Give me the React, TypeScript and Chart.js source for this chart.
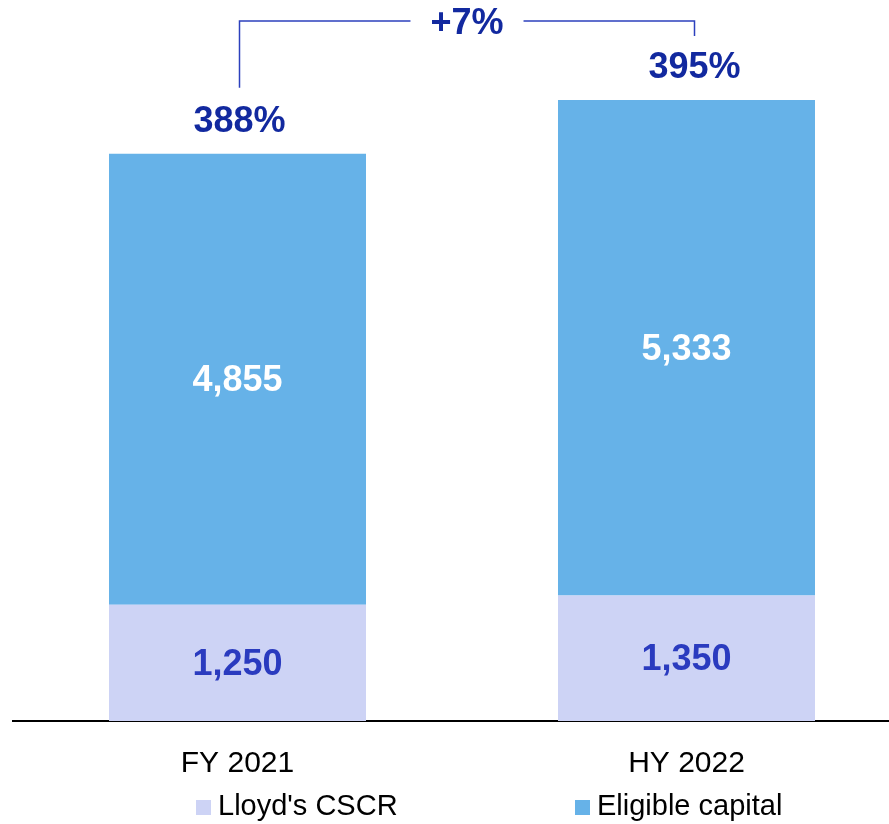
import React, { useEffect, useRef } from "react";
import { Chart, registerables } from "chart.js";

Chart.register(...registerables);

const categories = ["FY 2021", "HY 2022"];
const cscrValues = [1250, 1350];
const eligibleValues = [4855, 5333];
const ratioLabels = ["388%", "395%"];
const changeLabel = "+7%";
const seriesNames = ["Lloyd's CSCR", "Eligible capital"];

const FONT = "'Liberation Sans', Arial, Helvetica, sans-serif";
const CSCR_COLOR = "#cdd3f5";
const ELIGIBLE_COLOR = "#66b2e8";
const NAVY = "#12299f";
const INNER_BLUE = "#2a3bbf";
const BRACKET = "#2c40bd";

const fmt = (v: number) => v.toLocaleString("en-US");

const labelPlugin = {
  id: "customLabels",
  afterDatasetsDraw(chart: any) {
    const ctx = chart.ctx;
    ctx.save();
    ctx.textAlign = "center";
    ctx.textBaseline = "middle";
    ctx.font = `bold 36px ${FONT}`;
    chart.data.datasets.forEach((ds: any, di: number) => {
      const meta = chart.getDatasetMeta(di);
      meta.data.forEach((el: any, i: number) => {
        const v = ds.data[i];
        ctx.fillStyle = di === 0 ? INNER_BLUE : "#ffffff";
        ctx.fillText(fmt(v), el.x, (el.y + el.base) / 2 + 2);
      });
    });
    const topMeta = chart.getDatasetMeta(chart.data.datasets.length - 1);
    const els = topMeta.data;
    const offsets = [2, 8];
    ctx.fillStyle = NAVY;
    els.forEach((el: any, i: number) => {
      ctx.fillText(ratioLabels[i], el.x + offsets[i], el.y - 32);
    });
    const leftX = els[0].x + offsets[0];
    const rightX = els[1].x + offsets[1];
    const lineY = Math.min(els[0].y, els[1].y) - 79;
    const midX = (leftX + rightX) / 2;
    const tw = ctx.measureText(changeLabel).width;
    const gap = tw / 2 + 20;
    ctx.strokeStyle = BRACKET;
    ctx.lineWidth = 1.5;
    ctx.beginPath();
    ctx.moveTo(leftX, els[0].y - 66);
    ctx.lineTo(leftX, lineY);
    ctx.lineTo(midX - gap, lineY);
    ctx.moveTo(midX + gap, lineY);
    ctx.lineTo(rightX, lineY);
    ctx.lineTo(rightX, els[1].y - 64);
    ctx.stroke();
    ctx.fillText(changeLabel, midX, lineY + 3);
    ctx.restore();
  },
  afterDraw(chart: any) {
    const ctx = chart.ctx;
    ctx.save();
    const starts = [196, 575];
    ctx.font = `29px ${FONT}`;
    ctx.textAlign = "left";
    ctx.textBaseline = "alphabetic";
    chart.data.datasets.forEach((ds: any, i: number) => {
      const x0 = starts[i];
      ctx.fillStyle = ds.backgroundColor;
      ctx.fillRect(x0, 800, 15, 15);
      ctx.fillStyle = "#000000";
      ctx.fillText(ds.label, x0 + 22, 815);
    });
    ctx.restore();
  },
};

export default function App() {
  const ref = useRef<HTMLCanvasElement | null>(null);
  useEffect(() => {
    if (!ref.current) return;
    const chart = new Chart(ref.current, {
      type: "bar",
      data: {
        labels: categories,
        datasets: [
          {
            label: seriesNames[0],
            data: cscrValues,
            backgroundColor: CSCR_COLOR,
            categoryPercentage: 1,
            barPercentage: 0.5724,
          },
          {
            label: seriesNames[1],
            data: eligibleValues,
            backgroundColor: ELIGIBLE_COLOR,
            categoryPercentage: 1,
            barPercentage: 0.5724,
          },
        ],
      },
      options: {
        responsive: false,
        animation: false,
        devicePixelRatio: 1,
        layout: { padding: { left: 13, right: 0, top: 24, bottom: 17 } },
        plugins: {
          legend: { display: false },
          tooltip: { enabled: false },
        },
        scales: {
          x: {
            stacked: true,
            grid: { display: true, drawOnChartArea: false, drawTicks: false },
            border: { display: true, color: "#000000", width: 2 },
            ticks: {
              color: "#000000",
              padding: 25,
              font: { family: FONT, size: 30 },
            },
          },
          y: {
            stacked: true,
            display: false,
            min: 0,
            max: 7500,
          },
        },
      },
      plugins: [labelPlugin],
    });
    return () => chart.destroy();
  }, []);
  return (
    <div
      style={{
        position: "absolute",
        left: 0,
        top: 0,
        width: 889,
        height: 824,
        overflow: "hidden",
        background: "#ffffff",
      }}
    >
      <canvas ref={ref} width={911} height={824} style={{ display: "block" }} />
    </div>
  );
}
